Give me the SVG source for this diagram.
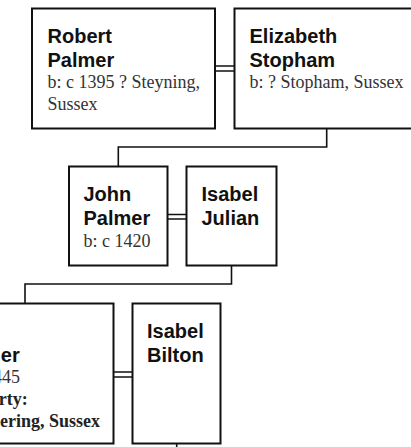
<svg xmlns="http://www.w3.org/2000/svg" width="411" height="447" viewBox="0 0 411 447">
<style>
.box{fill:#fff;stroke:#111;stroke-width:2}
.name{font-family:"Liberation Sans",Arial,sans-serif;font-weight:bold;font-size:20px;fill:#111}
.info{font-family:"Liberation Serif","Times New Roman",serif;font-size:18px;fill:#333}
.infob{font-family:"Liberation Serif","Times New Roman",serif;font-size:18px;font-weight:bold;fill:#222}
.conn{fill:none;stroke:#111;stroke-width:1.6}
</style>
<rect width="411" height="447" fill="#fff"/>
<g id="connectors">
<path class="conn" d="M326.7 128.5V147H118.3V166.5"/>
<path class="conn" d="M231.5 265.5V284H25V303.5"/>
<path class="conn" d="M176.7 443.5V448"/>
<path class="conn" d="M215 66H234.5M215 71H234.5"/>
<path class="conn" d="M167.5 214.5H186.5M167.5 219H186.5"/>
<path class="conn" d="M113.5 372H132.5M113.5 377H132.5"/>
</g>
<g id="robert-palmer">
<rect class="box" x="32" y="8.5" width="183" height="120"/>
<text class="name" x="47.5" y="42.7">Robert</text>
<text class="name" x="47.5" y="66.7">Palmer</text>
<text class="info" x="47.5" y="88.3">b: c 1395 ? Steyning,</text>
<text class="info" x="47.5" y="110.3">Sussex</text>
</g>
<g id="elizabeth-stopham">
<rect class="box" x="234.5" y="8.5" width="185" height="120"/>
<text class="name" x="249.5" y="42.7">Elizabeth</text>
<text class="name" x="249.5" y="66.7">Stopham</text>
<text class="info" x="249.5" y="88.3">b: ? Stopham, Sussex</text>
</g>
<g id="john-palmer-1420">
<rect class="box" x="69" y="166.5" width="98.5" height="99"/>
<text class="name" x="83.5" y="201">John</text>
<text class="name" x="83.5" y="225">Palmer</text>
<text class="info" x="83.5" y="246.6">b: c 1420</text>
</g>
<g id="isabel-julian">
<rect class="box" x="186.5" y="166.5" width="90" height="99"/>
<text class="name" x="201.5" y="201">Isabel</text>
<text class="name" x="201.5" y="225">Julian</text>
</g>
<g id="john-palmer-1445">
<rect class="box" x="-63.5" y="303.5" width="177" height="140"/>
<text class="name" x="-47" y="337.7">John</text>
<text class="name" x="-47" y="361.7">Palmer</text>
<text class="info" x="-47" y="383.3">b: c 1445</text>
<text class="infob" x="-47" y="404.9">Property:</text>
<text class="infob" x="-47" y="426.5">Angmering, Sussex</text>
</g>
<g id="isabel-bilton">
<rect class="box" x="132.5" y="303.5" width="88" height="140"/>
<text class="name" x="147" y="337.7">Isabel</text>
<text class="name" x="147" y="361.7">Bilton</text>
</g>
</svg>
